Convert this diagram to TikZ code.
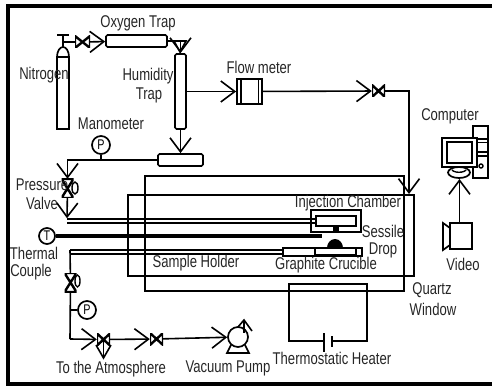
\documentclass[tikz,border=0pt]{standalone}
\usepackage{fontspec}
\setmainfont[FakeStretch=0.77]{Liberation Sans}
\usetikzlibrary{arrows.meta}
\tikzset{
    pipe/.style={line width=1.6pt},
    flow/.style={pipe, -{Straight Barb[length=14pt,width=21pt,line width=1.6pt]}},
    part/.style={draw, line width=1.7pt, inner sep=0pt, fill=white},
    trap/.style={part, rounded corners=1.5pt},
    gauge/.style={part, circle, font=\fontsize{14}{14}\selectfont},
    lab/.style={inner sep=0pt, text=black!85, font=\fontsize{17}{19}\selectfont},
    hvalve/.style={inner sep=0pt, minimum width=#1, minimum height=12pt, path picture={
        \draw[line width=2.4pt] (path picture bounding box.south west) -- (path picture bounding box.north east)
            -- (path picture bounding box.south east) -- (path picture bounding box.north west) -- cycle;}},
    vvalve/.style={inner sep=0pt, minimum width=12pt, minimum height=#1, path picture={
        \draw[line width=2.4pt] (path picture bounding box.south west) -- (path picture bounding box.south east)
            -- (path picture bounding box.north west) -- (path picture bounding box.north east) -- cycle;}},
}
\begin{document}
\begin{tikzpicture}[x=1pt, y=-1pt]
    \useasboundingbox (0,0) rectangle (492,387);

    % Outer frame
    \draw[line width=4pt] (492,6) -- (8,6) -- (8,384) -- (492,384);

    % Furnace walls
    \draw[pipe] (145,176) rectangle (404,291);
    \draw[pipe] (128,195) rectangle (414,276);

    % Gas source and traps
    \node[part, minimum width=12pt, minimum height=72pt] (cylN) at (63,93) {};
    \draw[line width=1.7pt, fill=white] (57,57) arc (180:360:6 and 10) -- cycle;
    \coordinate (neckN) at (63,42);
    \draw[pipe] (57,35) -- (69,35);
    \draw[pipe] (63,35) -- (63,47);
    \node[hvalve=15pt] (valveN) at (82.5,42) {};
    \node[trap, minimum width=61pt, minimum height=12pt] (trapO) at (136.5,41) {};
    \node[trap, minimum width=11pt, minimum height=75pt] (trapH) at (180.5,91.5) {};
    \node[trap, minimum width=45pt, minimum height=12pt] (trapM) at (180.5,160) {};
    \draw[pipe] (neckN) -- (valveN);
    \draw[flow] (valveN) -- (trapO);
    \draw[flow] (trapO) -| (trapH);
    \draw[pipe] (174,41) -- (186,41) -- (180,52) -- cycle;
    \draw[flow] (trapH) -- (trapM);

    % Flow meter line
    \node[part, minimum width=25pt, minimum height=25pt] (flowM) at (249.5,91.5) {};
    \draw[line width=1.7pt] (241,79) -- (241,104);
    \draw[line width=1.7pt] (258.5,79) -- (258.5,104);
    \node[hvalve=13pt] (valveF) at (378.5,91) {};
    \coordinate (inletQ) at (409,194);
    \draw[flow] (trapH.east |- flowM) -- (flowM);
    \draw[flow] (flowM) -- (valveF);
    \draw[flow] (valveF) -| (inletQ);

    % Manometer and pressure valve
    \node[gauge, minimum size=18pt] (gaugeM) at (101,145) {P};
    \coordinate (bendM) at (101,160);
    \node[vvalve=19pt] (valveP) at (67.5,188.5) {};
    \node[minimum width=0pt, inner sep=0pt] (tapA) at (67,219) {};
    \draw[flow] (trapM) -| (valveP);
    \draw[pipe] (gaugeM) -- (bendM);
    \draw[line width=1.4pt] (75,188) ellipse (3 and 6);
    \draw[flow] (valveP) -- (tapA);

    % Injection chamber
    \node[part, minimum width=50pt, minimum height=22pt] (chamberO) at (336,221) {};
    \node[part, minimum width=40pt, minimum height=10pt] (chamberI) at (336,221) {};
    \fill (333,226) rectangle (339,232);
    \draw[pipe] (tapA) -- (chamberI.west |- tapA);
    \draw[pipe] (67,223) -- (chamberI.west |- 0,223);

    % Thermal couple
    \node[gauge, minimum size=16pt] (gaugeT) at (47,236) {T};
    \coordinate (tipT) at (322,236);
    \draw[line width=4pt] (gaugeT) -- (tipT);

    % Crucible and sessile drop
    \node[part, minimum width=79pt, minimum height=8pt] (crucible) at (322.5,252) {};
    \draw[line width=1.7pt] (315,248) -- (315,256);
    \draw[line width=1.7pt] (356,248) -- (356,256);
    \draw[line width=2pt] (315,254.5) -- (356,254.5);
    \fill (327,248) arc (180:360:8 and 9) -- cycle;

    % Vacuum line
    \coordinate (tapB) at (70,250);
    \node[vvalve=19pt] (valveV) at (70.5,282.5) {};
    \node[gauge, minimum size=18pt] (gaugeP) at (87,310) {P};
    \coordinate (bendV) at (70,339);
    \node[hvalve=13pt] (valveA) at (103.5,339.5) {};
    \node[hvalve=13pt] (valveB) at (156.5,339) {};
    \node[part, circle, minimum size=20pt] (pump) at (238,337) {};
    \draw[pipe] (tapB) -- (crucible.west |- tapB);
    \draw[pipe] (70,254) -- (crucible.west |- 0,254);
    \draw[pipe] (tapB) -- (valveV);
    \draw[line width=1.4pt] (77.5,281) ellipse (2.5 and 6);
    \draw[pipe] (valveV) -- (bendV);
    \draw[pipe] (70,310) -- (gaugeP);
    \draw[flow] (bendV) -- (valveA);
    \draw[flow] (valveA) -- (valveB);
    \draw[flow] (valveB) -- (pump);
    \draw[pipe] (103.5,339) -- (103.5,358);
    \draw[pipe] (96,345) -- (103.5,358) -- (111,345);
    \draw[line width=1.7pt] (231,345) -- (227,353) -- (249,353) -- (245,345);
    \draw[pipe] (238,327) -- (244,320) -- (252,331);
    \draw[pipe] (244,320) -- (244,333);

    % Heater
    \draw[pipe] (324,341) -- (289,341) -- (289,284) -- (367,284) -- (367,341) -- (332,341);
    \draw[pipe] (324,333) -- (324,352);
    \draw[pipe] (332,336) -- (332,347);

    % Computer and camera
    \node[part, minimum width=15pt, minimum height=52pt] (tower) at (480.5,152) {};
    \draw[line width=1.4pt] (473,139) -- (488,139);
    \draw[line width=1.4pt] (473,142.5) -- (488,142.5);
    \draw[line width=1.4pt] (473,152) rectangle (488,156);
    \draw[line width=1.4pt] (481,166) circle (2);
    \draw[line width=1.7pt, fill=white] (459,172.5) ellipse (11 and 5.5);
    \draw[line width=1.4pt] (452,170) arc (160:20:7.5 and 3.5);
    \node[part, minimum width=35pt, minimum height=29pt] (screen) at (459.5,152.5) {};
    \draw[line width=1.7pt] (447,142) rectangle (472,163);
    \node[part, minimum width=22pt, minimum height=26pt] (video) at (461,236) {};
    \draw[line width=1.7pt] (450,228) -- (443,223) -- (443,250) -- (450,245);
    \coordinate (videoT) at (459.5,223);
    \coordinate (baseC) at (459.5,179);
    \draw[flow] (videoT) -- (baseC);

    % Labels
    \node[lab] (labO) at (138,23) {Oxygen Trap};
    \node[lab] (labN) at (44,75) {Nitrogen};
    \node[lab] (labH) at (148,76) {Humidity};
    \node[lab] (labHb) at (149,95) {Trap};
    \node[lab] (labF) at (259,67) {Flow meter};
    \node[lab] (labM) at (111,124) {Manometer};
    \node[lab] (labP) at (42,185) {Pressure};
    \node[lab] (labPb) at (42,203) {Valve};
    \node[lab] (labT) at (34,253) {Thermal};
    \node[lab] (labTb) at (31,272) {Couple};
    \node[lab] (labS) at (196,263) {Sample Holder};
    \node[lab] (labA) at (111,369) {To the Atmosphere};
    \node[lab] (labV) at (228,368) {Vacuum Pump};
    \node[lab] (labH2) at (332,358) {Thermostatic Heater};
    \node[lab] (labQ) at (432,290) {Quartz};
    \node[lab] (labQb) at (433,309) {Window};
    \node[lab] (labI) at (348,203) {Injection Chamber};
    \node[lab] (labD) at (383,231) {Sessile};
    \node[lab] (labDb) at (383,250) {Drop};
    \node[lab] (labG) at (326,265) {Graphite Crucible};
    \node[lab] (labC) at (450,116) {Computer};
    \node[lab] (labW) at (463,264) {Video};
\end{tikzpicture}
\end{document}
